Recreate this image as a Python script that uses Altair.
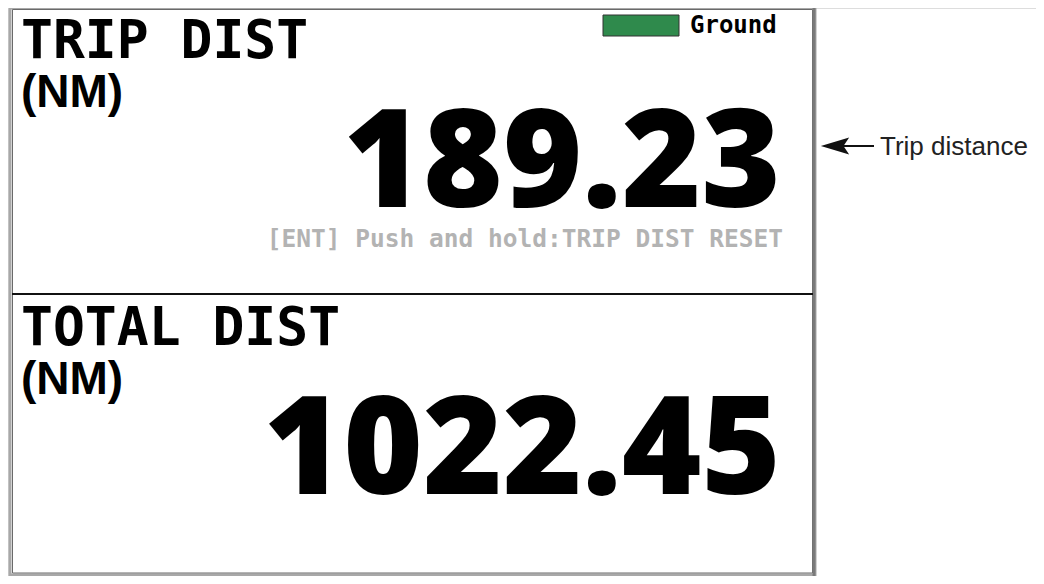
import altair as alt
import pandas as pd

# ---- data -------------------------------------------------------------
panels = [0, 1]
labels = ["TRIP DIST", "TOTAL DIST"]
units = ["(NM)", "(NM)"]
values = [189.23, 1022.45]
hint_text = ["[ENT] Push and hold:TRIP DIST RESET"]
legend_label = ["Ground"]
annotation = ["Trip distance"]

W, H = 1028, 568
main = pd.DataFrame({"panel": panels, "label": labels, "unit": units, "value": values})
hint = pd.DataFrame({"panel": [0], "text": hint_text})
divider = pd.DataFrame({"panel": [1]})
legend = pd.DataFrame({"panel": [0], "text": legend_label})
annot = pd.DataFrame({"panel": [0], "text": annotation})

yscale = alt.Scale(domain=[0, 2], range=[-1, 573])
Y = alt.Y("panel:Q", scale=yscale, axis=None)

MONO = "DejaVu Sans Mono"
NARROW = "Liberation Sans Narrow, Arial Narrow, Liberation Sans, Arial, sans-serif"
NUM = "Open Sans"

frame_outer = alt.Chart(divider).mark_rect(fill="white", stroke="#a8a8a8", strokeWidth=3).encode(
    x=alt.value(2), x2=alt.value(807), y=alt.value(0), y2=alt.value(567)
)
frame_inner = alt.Chart(divider).mark_rect(fill="white", stroke="#6a6a6a", strokeWidth=1).encode(
    x=alt.value(4.5), x2=alt.value(804.5), y=alt.value(1.5), y2=alt.value(565)
)
frame_right = alt.Chart(divider).mark_rule(stroke="#7a7a7a", strokeWidth=3).encode(
    x=alt.value(806), y=alt.value(0), y2=alt.value(568)
)

div_rule = alt.Chart(divider).mark_rule(stroke="#111111", strokeWidth=2).encode(
    y=Y, x=alt.value(4), x2=alt.value(805)
)

title_txt = alt.Chart(main).mark_text(
    font=MONO, fontWeight="bold", fontSize=53, align="left", baseline="alphabetic",
    dy=51, color="black"
).encode(y=Y, x=alt.value(13), text="label:N")

unit_txt = alt.Chart(main).mark_text(
    font=NARROW, fontWeight="bold", fontSize=46, align="left", baseline="alphabetic",
    dy=100, color="black"
).encode(y=Y, x=alt.value(13), text="unit:N")

value_txt = alt.Chart(main).mark_text(
    font=NUM, fontWeight=800, fontSize=136, align="right", baseline="alphabetic",
    dy=200, color="black"
).encode(y=Y, x=alt.value(773), text=alt.Text("value:Q", format=".2f"))

hint_txt = alt.Chart(hint).mark_text(
    font=MONO, fontWeight="bold", fontSize=24.5, align="right", baseline="alphabetic",
    dy=240, color="#b3b3b3"
).encode(y=Y, x=alt.value(775), text="text:N")

legend_box = alt.Chart(legend).mark_rect(fill="#2f8a4c", stroke="#333333", strokeWidth=1).encode(
    x=alt.value(595), x2=alt.value(671), y=alt.value(7), y2=alt.value(28)
)
legend_txt = alt.Chart(legend).mark_text(
    font=MONO, fontWeight="bold", fontSize=24, align="left", baseline="alphabetic",
    dy=26, color="black"
).encode(y=Y, x=alt.value(682), text="text:N")

arrow_line = alt.Chart(annot).mark_rule(stroke="#111111", strokeWidth=2).encode(
    x=alt.value(826), x2=alt.value(866), y=alt.value(138)
)
arrow_head = alt.Chart(annot).mark_point(
    shape="M -1 0 L 1 -0.6 L 0.6 0 L 1 0.6 Z", filled=True, color="#111111", size=800, opacity=1
).encode(x=alt.value(827), y=alt.value(138))
annot_txt = alt.Chart(annot).mark_text(
    font="Liberation Sans, Arial, sans-serif", fontSize=26, align="left", baseline="alphabetic",
    dy=148, color="#222222"
).encode(y=Y, x=alt.value(872), text="text:N")

chart = alt.layer(
    frame_outer, frame_inner, frame_right, div_rule,
    title_txt, unit_txt, value_txt, hint_txt,
    legend_box, legend_txt, arrow_line, arrow_head, annot_txt,
).properties(
    width=W, height=H, padding=0, autosize=alt.AutoSizeParams(type="none")
).configure_view(stroke=None).configure(background="white")

chart.save("out.html", embed_options={"renderer": "svg", "actions": False})
